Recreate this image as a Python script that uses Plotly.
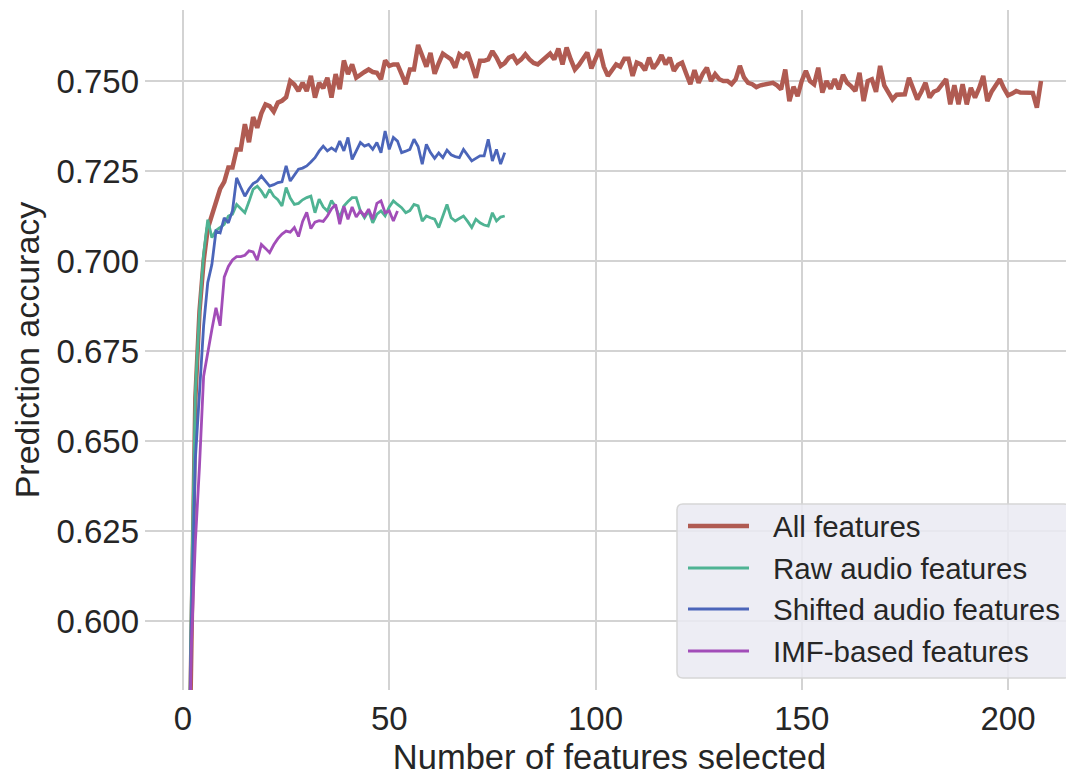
import plotly.graph_objects as go

# ---- Data ----
ALL_FEATURES = [
    0.520, 0.600, 0.662, 0.686, 0.700, 0.709, 0.713, 0.717, 0.720, 0.722,
    0.726, 0.726, 0.731, 0.731, 0.738, 0.733, 0.740, 0.737, 0.741, 0.7435,
    0.743, 0.7415, 0.744, 0.7445, 0.7455, 0.750, 0.749, 0.7472, 0.7495, 0.7472,
    0.7514, 0.7454, 0.7495, 0.748, 0.7509, 0.7454, 0.7519, 0.7477, 0.7557, 0.7519,
    0.7546, 0.7509, 0.7519, 0.7525, 0.7532, 0.7525, 0.7523, 0.7505, 0.7557, 0.7542,
    0.7546, 0.7546, 0.7519, 0.7491, 0.7532, 0.7532, 0.7600, 0.7570, 0.7540, 0.7578,
    0.7520, 0.7550, 0.7576, 0.7568, 0.7560, 0.7537, 0.7574, 0.7565, 0.7579, 0.7545,
    0.7509, 0.7556, 0.7556, 0.7560, 0.7583, 0.7565, 0.7542, 0.7550, 0.7565, 0.7570,
    0.7551, 0.7560, 0.7574, 0.7560, 0.7550, 0.7546, 0.7555, 0.7565, 0.7576, 0.7560,
    0.7590, 0.7546, 0.7593, 0.7560, 0.7532, 0.7545, 0.7560, 0.7579, 0.7535, 0.7560,
    0.7588, 0.7540, 0.7514, 0.7530, 0.7546, 0.7540, 0.7562, 0.7562, 0.7514, 0.7551,
    0.7546, 0.7530, 0.7565, 0.7535, 0.7550, 0.7572, 0.7546, 0.7565, 0.7528, 0.7545,
    0.7551, 0.7520, 0.7491, 0.7530, 0.7495, 0.7520, 0.7537, 0.7500, 0.7519, 0.7505,
    0.7500, 0.7500, 0.7491, 0.7505, 0.7542, 0.7510, 0.7495, 0.7491, 0.7483, 0.7488,
    0.7491, 0.7491, 0.7495, 0.7488, 0.7477, 0.7532, 0.7444, 0.7484, 0.7458, 0.7500,
    0.7528, 0.7500, 0.7491, 0.7537, 0.7468, 0.7500, 0.7479, 0.7505, 0.7477, 0.7517,
    0.7495, 0.7485, 0.7472, 0.7523, 0.7444, 0.7500, 0.7505, 0.7470, 0.7542, 0.7488,
    0.7470, 0.7449, 0.7462, 0.7463, 0.7463, 0.7509, 0.7478, 0.7449, 0.7470, 0.7495,
    0.7454, 0.7470, 0.7475, 0.7490, 0.7505, 0.7435, 0.7488, 0.7435, 0.7491, 0.7435,
    0.7481, 0.7454, 0.7480, 0.7514, 0.7444, 0.7470, 0.7490, 0.7505, 0.7480, 0.7460,
    0.7465, 0.7472, 0.7468, 0.7468, 0.7467, 0.7467, 0.7426, 0.7500,
]

RAW_AUDIO = [
    0.520, 0.605, 0.664, 0.686, 0.702, 0.7115, 0.7065, 0.7085, 0.7093, 0.7102,
    0.7125, 0.7130, 0.7157, 0.7145, 0.7134, 0.7165, 0.7199, 0.7208, 0.7194, 0.7176,
    0.7199, 0.7180, 0.7170, 0.7153, 0.7204, 0.7175, 0.7157, 0.7160, 0.7170, 0.7176,
    0.7180, 0.7134, 0.7172, 0.7150, 0.7139, 0.7168, 0.7150, 0.7120, 0.7153, 0.7165,
    0.7176, 0.7176, 0.7139, 0.7120, 0.7139, 0.7106, 0.7130, 0.7139, 0.7125, 0.7150,
    0.7167, 0.7157, 0.7148, 0.7134, 0.7140, 0.7157, 0.7153, 0.7111, 0.7125, 0.7120,
    0.7116, 0.7093, 0.7125, 0.7157, 0.7120, 0.7111, 0.7118, 0.7125, 0.7110, 0.7093,
    0.7116, 0.7106, 0.7100, 0.7097, 0.7134, 0.7111, 0.7122, 0.7125,
]

SHIFTED_AUDIO = [
    0.520, 0.598, 0.645, 0.665, 0.682, 0.694, 0.699, 0.7083, 0.7078, 0.7120,
    0.7106, 0.7140, 0.7231, 0.7205, 0.7180, 0.7200, 0.7215, 0.7222, 0.7236, 0.7222,
    0.7208, 0.7212, 0.7218, 0.7220, 0.7264, 0.7222, 0.7240, 0.7255, 0.7258, 0.7264,
    0.7275, 0.7287, 0.7305, 0.7319, 0.7306, 0.7314, 0.7306, 0.7333, 0.7306, 0.7343,
    0.7282, 0.7305, 0.7329, 0.7319, 0.7324, 0.7310, 0.7329, 0.7301, 0.7361, 0.7310,
    0.7343, 0.7333, 0.7301, 0.7305, 0.7310, 0.7338, 0.7318, 0.7269, 0.7324, 0.7301,
    0.7285, 0.7300, 0.7287, 0.7308, 0.7295, 0.7290, 0.7287, 0.7310, 0.7295, 0.7278,
    0.7285, 0.7292, 0.7292, 0.7338, 0.7278, 0.7310, 0.7269, 0.7301,
]

IMF_BASED = [
    0.520, 0.592, 0.622, 0.643, 0.668, 0.675, 0.681, 0.687, 0.682, 0.6955,
    0.6985, 0.7003, 0.7012, 0.7012, 0.7016, 0.7028, 0.7025, 0.7002, 0.7046, 0.7035,
    0.7023, 0.7045, 0.7062, 0.7075, 0.7083, 0.7080, 0.7093, 0.7068, 0.7110, 0.7135,
    0.7090, 0.7108, 0.7112, 0.7110, 0.7125, 0.7145, 0.7157, 0.7102, 0.7152, 0.7116,
    0.7150, 0.7122, 0.7139, 0.7125, 0.7144, 0.7116, 0.7160, 0.7167, 0.7134, 0.7139,
    0.7111, 0.7139,
]

Y_TICKS = [0.600, 0.625, 0.650, 0.675, 0.700, 0.725, 0.750]
X_TICKS = [0, 50, 100, 150, 200]

# ---- Style ----
RED = "#b05b52"
GREEN = "#4fb393"
BLUE = "#4b65b9"
PURPLE = "#a24db8"
GRID = "#d3d3d3"
TEXT = "#262626"
FONT = "Liberation Sans, Arial, sans-serif"

SERIES = [
    ("All features", ALL_FEATURES, RED, 4.5),
    ("Raw audio features", RAW_AUDIO, GREEN, 2.8),
    ("Shifted audio features", SHIFTED_AUDIO, BLUE, 2.8),
    ("IMF-based features", IMF_BASED, PURPLE, 2.8),
]

# the page body adds an 8px margin, so the figure is drawn 8px smaller
PAGE_PAD = 8
W, H = 1074 - PAGE_PAD, 776 - PAGE_PAD
# plot area on screen
SX0, SX1, SY0, SY1 = 145, 1074, 10, 690
L, T = SX0 - PAGE_PAD, SY0 - PAGE_PAD
R, B = 0, H - (SY1 - PAGE_PAD)
PW, PH = SX1 - SX0, SY1 - SY0


def px_x(px):
    return (px - SX0) / PW


def px_y(py):
    return (SY1 - py) / PH


fig = go.Figure()
for name, vals, color, width in SERIES:
    fig.add_trace(
        go.Scatter(
            x=list(range(1, len(vals) + 1)),
            y=vals,
            name=name,
            mode="lines",
            line=dict(color=color, width=width),
            showlegend=False,
        )
    )

# legend box (rounded) drawn as shapes
x0, x1 = px_x(677), px_x(1070)
y0, y1 = px_y(678), px_y(504)
rx, ry = 6 / PW, 6 / PH
path = (
    f"M {x0+rx},{y0} L {x1-rx},{y0} Q {x1},{y0} {x1},{y0+ry} "
    f"L {x1},{y1-ry} Q {x1},{y1} {x1-rx},{y1} L {x0+rx},{y1} "
    f"Q {x0},{y1} {x0},{y1-ry} L {x0},{y0+ry} Q {x0},{y0} {x0+rx},{y0} Z"
)
shapes = [
    dict(type="path", xref="paper", yref="paper", path=path,
         fillcolor="rgba(234,234,242,0.85)", line=dict(color="#d6d6d6", width=1.5),
         layer="above"),
]
annotations = []
row_y = [526, 568, 609, 651]
for (name, _, color, width), ry_px in zip(SERIES, row_y):
    shapes.append(dict(type="line", xref="paper", yref="paper",
                       x0=px_x(688), x1=px_x(749), y0=px_y(ry_px), y1=px_y(ry_px),
                       line=dict(color=color, width=width), layer="above"))
    annotations.append(dict(xref="paper", yref="paper", x=px_x(771), y=px_y(ry_px),
                            xanchor="left", yanchor="middle", text=name, showarrow=False,
                            font=dict(size=29.5, color=TEXT, family=FONT)))

fig.update_layout(
    width=W,
    height=H,
    margin=dict(l=L, r=R, t=T, b=B),
    plot_bgcolor="white",
    paper_bgcolor="white",
    font=dict(family=FONT, color=TEXT, size=28),
    xaxis=dict(
        range=[-9.21, 216.0],
        tickvals=X_TICKS,
        showgrid=True,
        gridcolor=GRID,
        gridwidth=2,
        zeroline=False,
        showline=False,
        ticks="",
        ticklabelstandoff=6,
        tickfont=dict(size=33, color=TEXT),
        title=dict(text="Number of features selected", font=dict(size=34.5, color=TEXT), standoff=17),
        automargin=False,
    ),
    yaxis=dict(
        range=[0.58083, 0.76972],
        tickvals=Y_TICKS,
        tickformat=".3f",
        showgrid=True,
        gridcolor=GRID,
        gridwidth=2,
        zeroline=False,
        showline=False,
        ticks="",
        ticklabelstandoff=5,
        tickfont=dict(size=33, color=TEXT),
        title=dict(text="Prediction accuracy", font=dict(size=34, color=TEXT), standoff=11),
        automargin=False,
    ),
    shapes=shapes,
    annotations=annotations,
    showlegend=False,
)

fig.write_html("out.html")
